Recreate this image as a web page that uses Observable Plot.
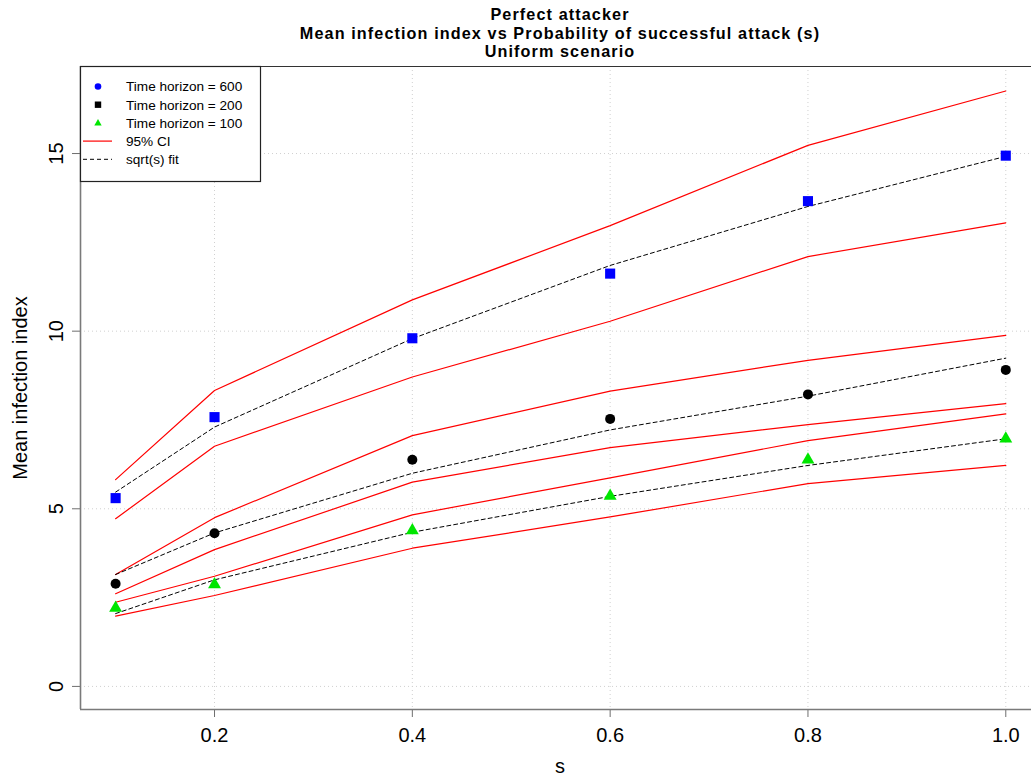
<!DOCTYPE html>
<html>
<head>
<meta charset="utf-8">
<script src="https://cdn.jsdelivr.net/npm/d3@7"></script>
<script src="https://cdn.jsdelivr.net/npm/@observablehq/plot@0.6"></script>
<style>
  html, body { margin: 0; padding: 0; background: #fff; overflow: hidden; }
  #wrap { position: relative; width: 1031px; height: 778px; font-family: "Liberation Sans", Arial, sans-serif; color: #000; }
  #title { position: absolute; left: 80px; width: 960px; top: 5px; text-align: center; font-weight: bold; font-size: 16.2px; line-height: 18.7px; letter-spacing: 1.1px; }
  #xlabel { position: absolute; left: 480px; width: 160px; top: 754px; text-align: center; font-size: 20px; line-height: 24px; }
  #ylabel { position: absolute; left: 20px; top: 388px; font-size: 20px; line-height: 24px; white-space: nowrap; transform: translate(-50%, -50%) rotate(-90deg); }
  #legend { position: absolute; left: 0; top: 0; }
  #chart svg g[aria-label="x-axis tick"], #chart svg g[aria-label="y-axis tick"] { stroke: #6e6e6e; }
</style>
</head>
<body>
<div id="wrap">
  <div id="chart"></div>
  <div id="title">Perfect attacker<br>Mean infection index vs Probability of successful attack (s)<br>Uniform scenario</div>
  <div id="xlabel">s</div>
  <div id="ylabel">Mean infection index</div>
</div>
<script>
// Probability of successful attack
const sValues = [0.1, 0.2, 0.4, 0.6, 0.8, 1.0];

// Mean infection index for each time horizon
const mean600 = [5.30, 7.58, 9.80, 11.62, 13.66, 14.94];
const mean200 = [2.89, 4.31, 6.38, 7.53, 8.22, 8.91];
const mean100 = [2.21, 2.87, 4.39, 5.36, 6.38, 6.97];

// sqrt(s) fitted curves
const fit600 = [5.47, 7.30, 9.79, 11.85, 13.51, 14.92];
const fit200 = [3.15, 4.32, 6.00, 7.22, 8.17, 9.24];
const fit100 = [2.05, 3.00, 4.34, 5.35, 6.22, 6.97];

// 95% confidence interval bounds
const ciUpper600 = [5.82, 8.33, 10.88, 12.97, 15.23, 16.76];
const ciLower600 = [4.72, 6.76, 8.71, 10.28, 12.10, 13.05];
const ciUpper200 = [3.15, 4.75, 7.06, 8.31, 9.18, 9.88];
const ciLower200 = [2.61, 3.85, 5.75, 6.72, 7.37, 7.96];
const ciUpper100 = [2.37, 3.10, 4.83, 5.87, 6.92, 7.67];
const ciLower100 = [1.98, 2.56, 3.89, 4.77, 5.71, 6.22];

// Axis ticks
const xTicks = [0.2, 0.4, 0.6, 0.8, 1.0];
const yTicks = [0, 5, 10, 15];

const xDomain = [0.0645, 1.026];
const yDomain = [-0.65, 17.45];

const horizons = [
  {name: "600", mean: mean600, fit: fit600, lo: ciLower600, hi: ciUpper600, symbol: "square", fill: "#0000ff", r: 5.7},
  {name: "200", mean: mean200, fit: fit200, lo: ciLower200, hi: ciUpper200, symbol: "circle", fill: "#000000", r: 5.0},
  {name: "100", mean: mean100, fit: fit100, lo: ciLower100, hi: ciUpper100, symbol: "triangle", fill: "#00e600", r: 4.8}
];

const rows = (h, key) => sValues.map((s, i) => ({s, v: h[key][i], horizon: h.name}));

const marks = [
  // dotted grid
  Plot.ruleX(xTicks, {stroke: "#d0d0d0", strokeDasharray: "1,3", strokeWidth: 1}),
  Plot.ruleY(yTicks, {stroke: "#d0d0d0", strokeDasharray: "1,3", strokeWidth: 1})
];

for (const h of horizons) {
  marks.push(Plot.line(rows(h, "hi"), {x: "s", y: "v", stroke: "#ff0000", strokeWidth: 1.2}));
  marks.push(Plot.line(rows(h, "lo"), {x: "s", y: "v", stroke: "#ff0000", strokeWidth: 1.2}));
  marks.push(Plot.line(rows(h, "fit"), {x: "s", y: "v", stroke: "#000", strokeWidth: 1, strokeDasharray: "4,3"}));
}
for (const h of horizons) {
  marks.push(Plot.dot(rows(h, "mean"), {x: "s", y: "v", symbol: () => h.symbol, fill: h.fill, r: h.r, stroke: "none"}));
}

// plot frame: left, bottom and top edges
marks.push(Plot.ruleX([xDomain[0]], {stroke: "#7a7a7a", strokeWidth: 1.6}));
marks.push(Plot.ruleY([yDomain[0]], {stroke: "#7a7a7a", strokeWidth: 1.6}));
marks.push(Plot.ruleY([yDomain[1]], {stroke: "#333", strokeWidth: 1.2}));

const chart = Plot.plot({
  width: 1031,
  height: 778,
  marginLeft: 80,
  marginRight: 0,
  marginTop: 66,
  marginBottom: 69,
  style: {fontSize: "20px", fontFamily: "'Liberation Sans', Arial, sans-serif", color: "#000", background: "#fff"},
  symbol: {type: "identity"},
  x: {domain: xDomain, ticks: xTicks, tickFormat: d3.format(".1f"), tickSize: 8, tickPadding: 10, label: null},
  y: {domain: yDomain, ticks: yTicks, tickFormat: d3.format("d"), tickSize: 8, tickPadding: 10, tickRotate: -90, label: null},
  marks
});
document.getElementById("chart").appendChild(chart);

// Legend box
const legendItems = [
  {label: "Time horizon = 600", kind: "circle", color: "#0000ff"},
  {label: "Time horizon = 200", kind: "square", color: "#000"},
  {label: "Time horizon = 100", kind: "triangle", color: "#00e600"},
  {label: "95% CI", kind: "line", color: "#ff0000"},
  {label: "sqrt(s) fit", kind: "dash", color: "#000"}
];
const lg = d3.select("#wrap").append("svg").attr("id", "legend")
  .attr("width", 1031).attr("height", 200);
lg.append("rect").attr("x", 80.5).attr("y", 66.5).attr("width", 180).attr("height", 115)
  .attr("fill", "#fff").attr("stroke", "#222").attr("stroke-width", 1.2);
legendItems.forEach((it, i) => {
  const y = 86.5 + i * 18.2;
  const cx = 98;
  if (it.kind === "circle") lg.append("circle").attr("cx", cx).attr("cy", y).attr("r", 3.3).attr("fill", it.color);
  if (it.kind === "square") lg.append("rect").attr("x", cx - 3.2).attr("y", y - 3.2).attr("width", 6.4).attr("height", 6.4).attr("fill", it.color);
  if (it.kind === "triangle") lg.append("path").attr("d", `M${cx},${y - 3.8}L${cx + 3.7},${y + 2.6}L${cx - 3.7},${y + 2.6}Z`).attr("fill", it.color);
  if (it.kind === "line") lg.append("line").attr("x1", 83).attr("x2", 112).attr("y1", y).attr("y2", y).attr("stroke", it.color).attr("stroke-width", 1.2);
  if (it.kind === "dash") lg.append("line").attr("x1", 83).attr("x2", 112).attr("y1", y).attr("y2", y).attr("stroke", it.color).attr("stroke-width", 1).attr("stroke-dasharray", "4,3");
  lg.append("text").attr("x", 126).attr("y", y).attr("dy", "0.36em")
    .attr("font-family", "'Liberation Sans', Arial, sans-serif").attr("font-size", 13.6).attr("fill", "#000")
    .text(it.label);
});
</script>
</body>
</html>
